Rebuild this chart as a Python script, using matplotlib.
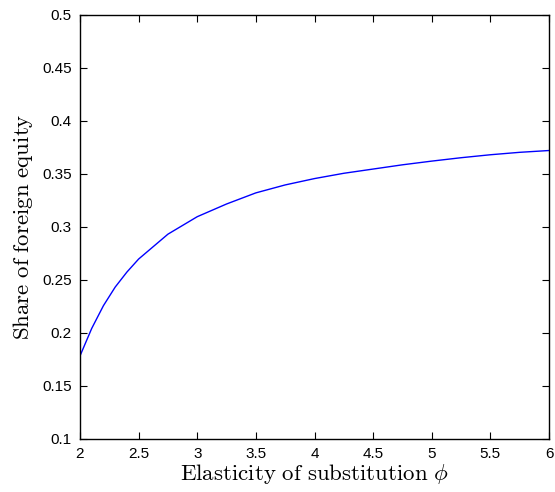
import matplotlib
matplotlib.use("Agg")
import matplotlib.pyplot as plt

# elasticity of substitution and foreign equity share
phi = [2.0, 2.1, 2.2, 2.3, 2.4, 2.5, 2.75, 3.0, 3.25, 3.5, 3.75,
       4.0, 4.25, 4.5, 4.75, 5.0, 5.25, 5.5, 5.75, 6.0]
share = [0.178, 0.204, 0.2255, 0.2430, 0.2572, 0.2695, 0.2930, 0.3095, 0.3215, 0.3320, 0.3395,
         0.3455, 0.3505, 0.3545, 0.3585, 0.3620, 0.3652, 0.3680, 0.3703, 0.3720]

x_ticks = [2, 2.5, 3, 3.5, 4, 4.5, 5, 5.5, 6]
y_ticks = [0.1, 0.15, 0.2, 0.25, 0.3, 0.35, 0.4, 0.45, 0.5]

plt.rcParams['font.family'] = ['Liberation Sans', 'DejaVu Sans']
plt.rcParams['mathtext.fontset'] = 'cm'

fig = plt.figure(figsize=(5.55, 4.92), dpi=100)
ax = fig.add_axes([80 / 555, 1 - 438.5 / 492, 469 / 555, 423.5 / 492])

ax.plot(phi, share, color="#0000ff", linewidth=1.0)

ax.set_xlim(2, 6)
ax.set_ylim(0.1, 0.5)
ax.set_xticks(x_ticks)
ax.set_yticks(y_ticks)
ax.set_xticklabels(["%g" % t for t in x_ticks])
ax.set_yticklabels(["%g" % t for t in y_ticks])
ax.tick_params(direction="in", top=True, right=True, length=5, width=0.8,
               labelsize=11, pad=6)
for s in ax.spines.values():
    s.set_linewidth(1.0)

ax.set_xlabel(r"$\mathrm{Elasticity\ of\ substitution}\ \phi$", fontsize=16.5, labelpad=1)
ax.set_ylabel(r"$\mathrm{Share\ of\ foreign\ equity}$", fontsize=16.5, labelpad=5)

fig.savefig("out.png", dpi=100)
